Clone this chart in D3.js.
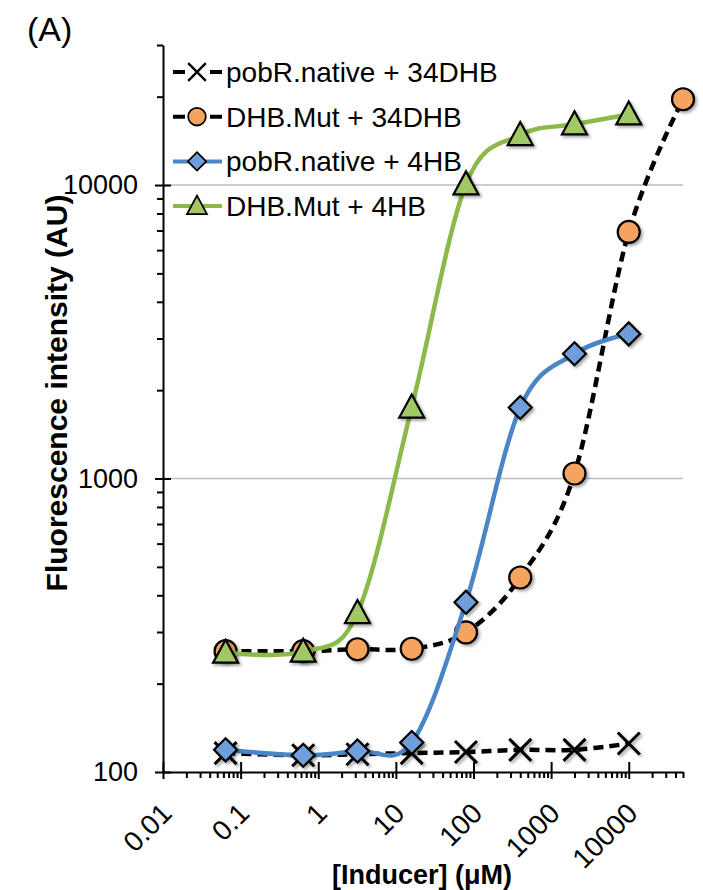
<!DOCTYPE html>
<html>
<head>
<meta charset="utf-8">
<script src="https://cdn.jsdelivr.net/npm/d3@7"></script>
<style>
  body { margin: 0; background: #fff; }
  text { font-family: "Liberation Sans", Arial, sans-serif; fill: #000; }
</style>
</head>
<body>
<div id="chart"></div>
<script>
// inducer concentrations (uM)
var xValues = [0.064, 0.64, 3.2, 16, 80, 400, 2000, 10000, 50000];

// fluorescence (AU) for each series
var nativeDHB = [116, 114, 115, 116, 117, 119, 119, 125];
var mutDHB = [258, 258, 262, 263, 299, 460, 1040, 6920, 19600];
var native4HB = [119, 114, 118, 126, 379, 1745, 2660, 3110];
var mut4HB = [255, 257, 348, 1745, 10050, 14800, 16100, 17400];

var seriesNames = ["pobR.native + 34DHB", "DHB.Mut + 34DHB", "pobR.native + 4HB", "DHB.Mut + 4HB"];

var xTickValues = [0.01, 0.1, 1, 10, 100, 1000, 10000];
var xTickLabels = ["0.01", "0.1", "1", "10", "100", "1000", "10000"];
var yTickValues = [100, 1000, 10000];
var yTickLabels = ["100", "1000", "10000"];

var width = 703,
    height = 890;
// plot box (window.top is taken, so own names)
var plotLeft = 163, plotRight = 683, plotTop = 45, plotBottom = 772;

var svg = d3.select("#chart")
  .append("svg")
    .attr("width", width)
    .attr("height", height);

// soft shadow under the markers
var defs = svg.append("defs");
defs.append("filter")
    .attr("id", "shadow")
    .attr("x", "-50%").attr("y", "-50%")
    .attr("width", "200%").attr("height", "200%")
  .append("feDropShadow")
    .attr("dx", 2).attr("dy", 2)
    .attr("stdDeviation", 1.5)
    .attr("flood-color", "#000")
    .attr("flood-opacity", 0.35);

var x = d3.scaleLog()
  .domain([0.01, 50000])
  .range([plotLeft, plotRight]);

var y = d3.scaleLog()
  .domain([100, 30000])
  .range([plotBottom, plotTop]);

// gridlines
svg.append("g")
  .selectAll("line")
  .data([1000, 10000])
  .enter()
  .append("line")
    .attr("x1", plotLeft).attr("x2", plotRight)
    .attr("y1", function(d) { return y(d); })
    .attr("y2", function(d) { return y(d); })
    .attr("stroke", "#bdbdbd")
    .attr("stroke-width", 1.5);

// minor tick values
var xMinor = [];
for (var e = -2; e < 4; e++) {
  for (var m = 2; m <= 9; m++) xMinor.push(m * Math.pow(10, e));
}
xMinor.push(20000, 30000, 40000, 50000);
var yMinor = [];
for (var e2 = 2; e2 < 4; e2++) {
  for (var m2 = 2; m2 <= 9; m2++) yMinor.push(m2 * Math.pow(10, e2));
}
yMinor.push(20000, 30000);

// y axis
var yMinorAxis = svg.append("g")
  .attr("transform", "translate(" + plotLeft + ",0)")
  .call(d3.axisLeft(y).tickValues(yMinor).tickSize(6).tickFormat(""));
yMinorAxis.select(".domain").remove();

var yAxis = svg.append("g")
  .attr("transform", "translate(" + plotLeft + ",0)")
  .call(d3.axisLeft(y)
    .tickValues(yTickValues)
    .tickSizeInner(8)
    .tickSizeOuter(0)
    .tickPadding(17)
    .tickFormat(function(d, i) { return yTickLabels[i]; }));
yAxis.selectAll(".tick line").attr("x1", 8);

yAxis.selectAll("text")
  .style("font-size", "27px")
  .style("font-family", "Liberation Sans, Arial, sans-serif");

// x axis
var xMinorAxis = svg.append("g")
  .attr("transform", "translate(0," + plotBottom + ")")
  .call(d3.axisBottom(x).tickValues(xMinor).tickSize(6).tickFormat(""));
xMinorAxis.select(".domain").remove();

var xAxis = svg.append("g")
  .attr("transform", "translate(0," + plotBottom + ")")
  .call(d3.axisBottom(x)
    .tickValues(xTickValues)
    .tickSizeInner(7)
    .tickSizeOuter(0)
    .tickFormat(function(d, i) { return xTickLabels[i]; }));
xAxis.selectAll(".tick line").attr("y1", -10);

xAxis.selectAll("text")
  .style("font-size", "28px")
  .style("font-family", "Liberation Sans, Arial, sans-serif")
  .attr("text-anchor", "end")
  .attr("dy", "0.35em")
  .attr("y", 0)
  .attr("transform", "translate(3,36) rotate(-45)");

svg.selectAll(".domain, .tick line")
  .attr("stroke", "#000")
  .attr("stroke-width", 2);

// axis titles
svg.append("text")
  .attr("x", 422)
  .attr("y", 884)
  .attr("text-anchor", "middle")
  .style("font-size", "27px")
  .style("font-weight", "bold")
  .text("[Inducer] (μM)");

svg.append("text")
  .attr("transform", "translate(67,393) rotate(-90)")
  .attr("text-anchor", "middle")
  .style("font-size", "30px")
  .style("font-weight", "bold")
  .text("Fluorescence intensity (AU)");

svg.append("text")
  .attr("x", 27)
  .attr("y", 41)
  .style("font-size", "34px")
  .text("(A)");

// marker shapes
function drawMarker(g, type, fill) {
  if (type === "x") {
    g.append("path")
      .attr("d", "M-11,-11L11,11M-11,11L11,-11")
      .attr("stroke", "#000")
      .attr("stroke-width", 3)
      .attr("fill", "none");
  } else if (type === "circle") {
    g.append("circle")
      .attr("r", 11)
      .attr("fill", fill)
      .attr("stroke", "#000")
      .attr("stroke-width", 2.2);
  } else if (type === "diamond") {
    g.append("path")
      .attr("d", "M0,-11.5L11.5,0L0,11.5L-11.5,0Z")
      .attr("fill", fill)
      .attr("stroke", "#000")
      .attr("stroke-width", 2.2);
  } else {
    g.append("path")
      .attr("d", "M0,-13L12.5,10L-12.5,10Z")
      .attr("fill", fill)
      .attr("stroke", "#000")
      .attr("stroke-width", 2.2)
      .attr("stroke-linejoin", "miter");
  }
}

var series = [
  { name: seriesNames[0], values: nativeDHB, line: "#000", dash: "10,6", marker: "x", fill: "none" },
  { name: seriesNames[1], values: mutDHB, line: "#000", dash: "10,6", marker: "circle", fill: "#F5A460" },
  { name: seriesNames[2], values: native4HB, line: "#4A86C5", dash: null, marker: "diamond", fill: "#6E9FDB" },
  { name: seriesNames[3], values: mut4HB, line: "#8DB84A", dash: null, marker: "triangle", fill: "#A2C866" }
];

var line = d3.line()
  .x(function(d) { return x(d[0]); })
  .y(function(d) { return y(d[1]); })
  .curve(d3.curveCardinal.tension(0));

series.forEach(function(s) {
  var pts = s.values.map(function(v, i) { return [xValues[i], v]; });
  var g = svg.append("g");
  g.append("path")
    .attr("d", line(pts))
    .attr("fill", "none")
    .attr("stroke", s.line)
    .attr("stroke-width", 4.5)
    .attr("stroke-dasharray", s.dash);
  g.selectAll(".pt")
    .data(pts)
    .enter()
    .append("g")
      .attr("class", "pt")
      .attr("filter", "url(#shadow)")
      .attr("transform", function(d) { return "translate(" + x(d[0]) + "," + y(d[1]) + ")"; })
      .each(function() { drawMarker(d3.select(this), s.marker, s.fill); });
});

// legend
var legend = svg.append("g");
series.forEach(function(s, i) {
  var ly = 72 + i * 44.7;
  var item = legend.append("g").attr("transform", "translate(0," + ly + ")");
  item.append("line")
    .attr("x1", 173).attr("x2", 222)
    .attr("stroke", s.line)
    .attr("stroke-width", 4)
    .attr("stroke-dasharray", s.dash ? "12,25,12" : null);
  var mk = item.append("g").attr("transform", "translate(197,0) scale(0.8)");
  drawMarker(mk, s.marker, s.fill);
  item.append("text")
    .attr("x", 226)
    .attr("dy", "0.35em")
    .style("font-size", "28px")
    .text(s.name);
});
</script>
</body>
</html>
